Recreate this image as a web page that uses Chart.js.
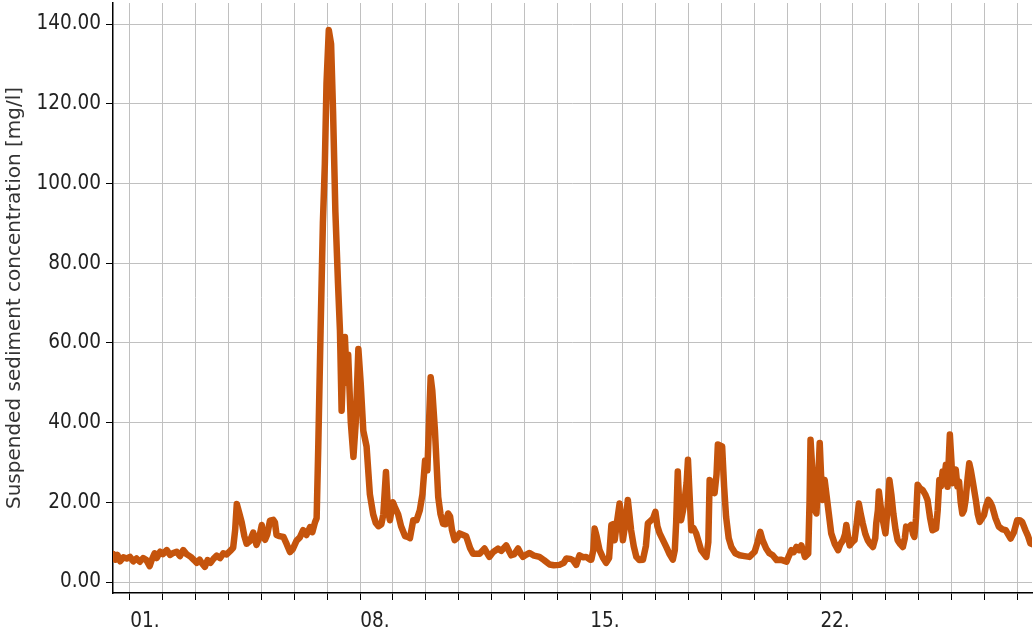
<!DOCTYPE html>
<html>
<head>
<meta charset="utf-8">
<script src="https://cdn.jsdelivr.net/npm/chart.js@4"></script>
<style>
  html, body { margin: 0; padding: 0; background: #fff; }
  #wrap { width: 1034px; height: 632px; }
</style>
</head>
<body>
<div id="wrap"><canvas id="chart" width="1034" height="632"></canvas></div>
<script>
// day of month (fractional) and suspended sediment concentration [mg/l]
var days = [
  0.49,0.56,0.62,0.70,0.80,0.90,1.00,1.10,1.20,1.30,1.40,1.50,1.60,1.66,1.75,1.81,1.92,2.00,2.12,2.22,
  2.30,2.42,2.52,2.62,2.72,2.85,2.95,3.03,3.12,3.20,3.28,3.36,3.45,3.54,3.64,3.74,3.84,3.94,4.05,4.14,
  4.20,4.25,4.32,4.40,4.48,4.55,4.65,4.75,4.85,4.93,5.01,5.06,5.11,5.18,5.26,5.36,5.41,5.46,5.55,5.67,
  5.77,5.87,5.95,6.07,6.17,6.27,6.37,6.48,6.55,6.63,6.68,6.73,6.80,6.87,6.93,6.98,7.05,7.12,7.18,7.25,
  7.33,7.39,7.44,7.49,7.54,7.60,7.64,7.72,7.80,7.87,7.95,8.02,8.10,8.20,8.30,8.40,8.48,8.56,8.65,8.71,
  8.79,8.85,8.91,9.00,9.06,9.16,9.25,9.37,9.45,9.52,9.62,9.72,9.82,9.90,9.98,10.05,10.10,10.15,10.20,10.28,
  10.38,10.45,10.53,10.60,10.68,10.74,10.80,10.88,10.95,11.03,11.23,11.35,11.44,11.64,11.79,11.90,11.94,12.05,12.20,12.30,
  12.45,12.55,12.60,12.70,12.81,12.90,12.96,13.05,13.16,13.30,13.46,13.60,13.77,13.90,14.07,14.20,14.28,14.40,14.48,14.58,
  14.68,14.80,14.88,15.00,15.04,15.10,15.14,15.20,15.29,15.40,15.49,15.58,15.65,15.70,15.75,15.82,15.90,15.95,16.00,16.08,
  16.15,16.25,16.33,16.41,16.50,16.61,16.70,16.76,16.86,16.92,16.99,17.05,17.12,17.22,17.32,17.42,17.52,17.58,17.62,17.67,
  17.72,17.77,17.83,17.88,17.94,17.98,18.04,18.08,18.15,18.23,18.38,18.54,18.60,18.64,18.72,18.79,18.85,18.89,19.02,19.08,
  19.14,19.22,19.30,19.42,19.55,19.70,19.85,20.01,20.10,20.18,20.25,20.36,20.46,20.56,20.68,20.80,20.98,21.05,21.13,21.20,
  21.28,21.36,21.43,21.50,21.54,21.64,21.68,21.71,21.78,21.84,21.89,21.95,21.99,22.04,22.07,22.14,22.24,22.34,22.45,22.55,
  22.62,22.70,22.76,22.80,22.86,22.90,22.98,23.05,23.12,23.18,23.24,23.30,23.38,23.45,23.53,23.61,23.68,23.71,23.76,23.79,
  23.86,23.91,23.99,24.05,24.11,24.17,24.23,24.30,24.36,24.44,24.52,24.58,24.62,24.70,24.77,24.83,24.87,24.92,24.97,25.04,
  25.12,25.20,25.27,25.35,25.42,25.53,25.58,25.63,25.68,25.73,25.78,25.83,25.88,25.95,26.00,26.03,26.08,26.13,26.18,26.23,
  26.28,26.33,26.38,26.43,26.49,26.54,26.59,26.64,26.74,26.80,26.86,26.93,26.99,27.05,27.12,27.18,27.24,27.34,27.44,27.55,
  27.65,27.72,27.80,27.90,28.00,28.08,28.15,28.25,28.33,28.40,28.45
];
var ssc = [
  7.0,5.6,6.8,5.2,6.2,5.9,6.3,5.2,5.9,5.1,6.0,5.5,4.0,5.5,7.2,6.0,7.6,7.0,8.0,6.8,
  7.2,7.6,6.5,8.0,7.0,6.3,5.5,4.8,5.6,4.6,3.8,5.5,4.8,5.8,6.6,6.0,7.2,6.9,7.8,8.6,
  13.0,19.6,17.5,15.0,11.5,9.6,10.3,12.4,9.3,11.0,14.3,11.5,10.6,12.0,15.4,15.6,15.0,11.8,11.5,11.3,
  9.5,7.5,8.2,10.4,11.2,13.0,11.8,13.8,12.5,15.0,16.0,34,63,90,105,125,138.5,135,118,93,
  75,63,43,55,61.5,50,57,40,31.4,40,58.5,50,38,34,22,17,14.8,14.0,14.5,17,
  27.6,18,15.5,20,18.8,17,14,11.5,11.3,11,15.5,15.5,18,22,30.5,28,40,51.4,48,38,
  21.3,17,14.6,14.5,17.2,16.5,13,10.5,11,12.2,11.5,8.5,7.1,7.1,8.4,6.8,6.3,7.5,8.4,7.8,
  9.2,7.5,6.7,7.0,8.4,7.0,6.3,6.8,7.3,6.6,6.3,5.5,4.4,4.2,4.3,4.8,5.9,5.8,5.5,4.3,
  6.7,6.2,6.3,5.6,5.6,8,13.4,11.5,8,6,4.8,6,14.3,14.5,10.5,15,19.7,16,10.5,15,
  20.6,13,9,6.3,5.5,5.6,9,14.7,15.5,16,17.6,14,12.2,10.5,8.8,7,5.6,8,14.7,27.7,
  18,15.5,18,20.6,25,30.7,20,13,13.5,12.2,8,6.3,10,25.6,24.5,22.3,27,34.5,34,24,
  16.4,11,8.8,7.2,6.7,6.5,6.3,7.6,10,12.6,10.5,8.4,7.2,6.7,5.5,5.6,5.1,6.5,8,7.5,
  8.8,8,9.2,7.5,6.3,7.1,20,35.7,26,18.1,17.2,27,34.9,25,20.6,25.6,18.9,12.2,9.5,8,
  9.5,10.5,12,14.3,11,9.2,10,10.5,15,19.7,17,14.7,12,10.5,9.5,8.8,11,14.7,18,22.7,
  18,15.5,12.2,18,25.6,22,17.2,13,10.5,9.5,8.8,11,13.9,13.5,14.3,12,11.3,16,24.4,23.5,
  23.1,22,20.6,16,13,13.4,18,25.6,24,27.7,26,29.4,23.9,37,30,24.8,27,28.2,24,25.2,
  20,17.2,18,20.6,26,29.8,28,25.6,20.6,17,15.1,16,16.8,19,20.6,20,18.9,16,13.9,13.2,
  13,12,10.9,12.5,15.5,15.5,15.1,13,11.5,9.7,9.5
];
var yTicks = [0, 20, 40, 60, 80, 100, 120, 140];
var dayGrid = [1,2,3,4,5,6,7,8,9,10,11,12,13,14,15,16,17,18,19,20,21,22,23,24,25,26,27,28];
var dayLabels = {1: "01.", 8: "08.", 15: "15.", 22: "22."};

var points = [];
for (var i = 0; i < days.length; i++) {
  points.push({x: days[i], y: ssc[i]});
}

var tickFont = { family: "'DejaVu Sans Condensed', 'DejaVu Sans'", size: 20.5 };

var ctx = document.getElementById("chart").getContext("2d");
var chart = new Chart(ctx, {
  type: "line",
  data: {
    datasets: [{
      label: "SSC",
      data: points,
      borderColor: "#c5540c",
      backgroundColor: "#c5540c",
      borderWidth: 6.5,
      pointRadius: 0,
      tension: 0,
      borderJoinStyle: "round",
      borderCapStyle: "round"
    }]
  },
  options: {
    responsive: false,
    animation: false,
    parsing: false,
    layout: { padding: { top: 3, right: 2, left: 0, bottom: 0 } },
    plugins: { legend: { display: false }, tooltip: { enabled: false } },
    scales: {
      x: {
        type: "linear",
        min: 0.483,
        max: 28.45,
        afterBuildTicks: function (s) {
          s.ticks = dayGrid.map(function (d) { return {value: d}; });
        },
        afterFit: function (s) {
          s.height = 39;
          s.paddingLeft = 0;
          s.paddingRight = 0;
        },
        grid: { color: "#c0c0c0", lineWidth: 1, tickColor: "#000", tickLength: 7, tickWidth: 1 },
        border: { display: true, color: "#000", width: 1.5 },
        ticks: {
          autoSkip: false,
          maxRotation: 0,
          labelOffset: 15,
          padding: 9,
          color: "#222",
          font: tickFont,
          callback: function (v) { return dayLabels[v] || ""; }
        }
      },
      y: {
        min: -2.76,
        max: 145.3,
        afterBuildTicks: function (s) {
          s.ticks = yTicks.map(function (v) { return {value: v}; });
        },
        afterFit: function (s) {
          s.width = 113;
          s.paddingTop = 0;
          s.paddingBottom = 0;
        },
        grid: { color: "#c0c0c0", lineWidth: 1, tickColor: "#000", tickLength: 7, tickWidth: 1 },
        border: { display: true, color: "#000", width: 1.5 },
        ticks: {
          padding: 5,
          color: "#222",
          font: tickFont,
          callback: function (v) { return v.toFixed(2); }
        },
        title: {
          display: true,
          text: "Suspended sediment concentration [mg/l]",
          color: "#333",
          padding: { top: 3, bottom: 2 },
          font: { family: "DejaVu Sans", size: 20 }
        }
      }
    }
  }
});
</script>
</body>
</html>
